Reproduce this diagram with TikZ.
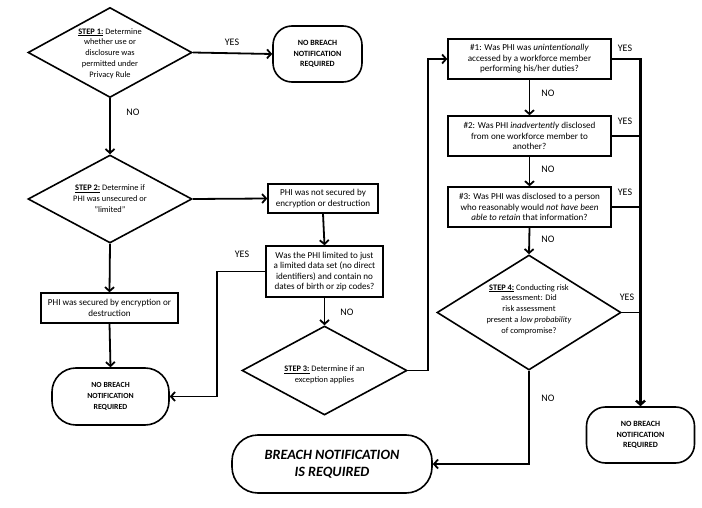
\documentclass[tikz,border=0pt]{standalone}
\usepackage{fontspec}
\setmainfont{Carlito}
\usetikzlibrary{shapes.geometric,arrows.meta}
\begin{document}
\begin{tikzpicture}[x=1pt,y=-1pt,
  dia/.style={draw, diamond, line width=1.6pt, inner sep=0pt},
  dtext/.style={align=center, inner sep=0pt, font=\fontsize{8.4}{10.8}\selectfont},
  box/.style={draw, rectangle, line width=1.4pt, align=center, inner sep=0pt, font=\fontsize{9.1}{10.6}\selectfont},
  term/.style={draw, rectangle, rounded corners=19pt, line width=1.6pt, align=center, inner sep=0pt, font=\bfseries\fontsize{8}{10.7}\selectfont},
  conn/.style={line width=1.8pt, -{Straight Barb[length=4pt,width=9pt]}},
  plain/.style={line width=1.8pt},
  lbl/.style={font=\fontsize{10}{11}\selectfont, inner sep=0pt}
]
\useasboundingbox (0,0) rectangle (702,508);
\fill[white] (0,0) rectangle (702,508);

% Step 1
\node[dia, minimum width=164pt, minimum height=90pt] (s1) at (110,52.5) {};
\node[dtext] (s1t) at (110,53.5) {\textbf{\underline{STEP 1:}} Determine\\whether use or\\disclosure was\\permitted under\\Privacy Rule};
\node[term, minimum width=89pt, minimum height=56pt] (nb1) at (317.5,54) {NO BREACH\\NOTIFICATION\\REQUIRED};

% Step 2
\node[dia, minimum width=164pt, minimum height=88pt] (s2) at (110,199) {};
\node[dtext] (s2t) at (110,198.5) {\textbf{\underline{STEP 2:}} Determine if\\PHI was unsecured or\\"limited"};

\node[box, minimum width=110pt, minimum height=29pt] (ns) at (323,198.5) {PHI was not secured by\\encryption or destruction};
\node[box, minimum width=117pt, minimum height=51pt] (lim) at (324.5,271.5) {Was the PHI limited to just\\a limited data set (no direct\\identifiers) and contain no\\dates of birth or zip codes?};
\node[box, minimum width=137pt, minimum height=30pt] (sec) at (109.5,308) {PHI was secured by encryption or\\destruction};
\node[term, rounded corners=24pt, minimum width=117pt, minimum height=57pt, font=\bfseries\fontsize{7.8}{10.7}\selectfont] (nb2) at (110.5,396.5) {NO BREACH\\NOTIFICATION\\REQUIRED};

% Step 3
\node[dia, minimum width=165pt, minimum height=89pt] (s3) at (324.5,370.5) {};
\node[dtext] (s3t) at (324.5,374.5) {\textbf{\underline{STEP 3:}} Determine if an\\exception applies};

% Questions
\node[box, minimum width=163pt, minimum height=40pt] (q1) at (529.5,59) {\#1: Was PHI was \textit{unintentionally}\\accessed by a workforce member\\performing his/her duties?};
\node[box, minimum width=163pt, minimum height=40pt] (q2) at (529.5,136) {\#2: Was PHI \textit{inadvertently} disclosed\\from one workforce member to\\another?};
\node[box, minimum width=163pt, minimum height=40pt] (q3) at (529.5,207) {\#3: Was PHI was disclosed to a person\\who reasonably would \textit{not have been}\\\textit{able to retain} that information?};

% Step 4
\node[dia, minimum width=184pt, minimum height=115pt] (s4) at (529,312.5) {};
\node[dtext] (s4t) at (529,309.5) {\textbf{\underline{STEP 4:}} Conducting risk\\assessment: Did\\risk assessment\\present a \textit{low probability}\\of compromise?};

\node[term, minimum width=108pt, minimum height=56pt] (nb3) at (640.5,435) {NO BREACH\\NOTIFICATION\\REQUIRED};
\node[term, rounded corners=26pt, minimum width=200pt, minimum height=58pt, font=\bfseries\itshape\fontsize{14.2}{16.7}\selectfont] (br) at (332,464) {BREACH NOTIFICATION\\IS REQUIRED};

% Connectors
\draw[conn] (s1.east) -- (nb1.west);
\node[lbl] (y1) at (232,42) {YES};
\draw[conn] (s1.south) -- (s2.north);
\node[lbl] (n1) at (133,112) {NO};
\draw[conn] (s2.east) -- (ns.west);
\draw[conn] (ns.south) -- (lim.north);
\draw[conn] (lim.west) -- ++(-48,0) |- (nb2.east);
\node[lbl] (y2) at (242,254) {YES};
\draw[conn] (lim.south) -- (s3.north);
\node[lbl] (n2) at (347,312) {NO};
\draw[conn] (s2.south) -- (sec.north);
\draw[conn] (sec.south) -- (nb2.north);
\draw[conn] (s3.east) -- ++(20,0) |- (q1.west);
\draw[conn] (q1.south) -- (q2.north);
\node[lbl] (n3) at (548,93) {NO};
\draw[conn] (q2.south) -- (q3.north);
\node[lbl] (n4) at (548,169) {NO};
\draw[conn] (q3.south) -- (s4.north);
\node[lbl] (n5) at (548,239) {NO};
\draw[conn, line width=2.4pt] (q1.east) -| (nb3.north);
\draw[plain] (q2.east) -- (q2.east -| nb3.north);
\draw[plain] (q3.east) -- (q3.east -| nb3.north);
\draw[plain] (s4.east) -- (s4.east -| nb3.north);
\node[lbl] (y3) at (625,48) {YES};
\node[lbl] (y4) at (625,121) {YES};
\node[lbl] (y5) at (625,192) {YES};
\node[lbl] (y6) at (627,297) {YES};
\draw[conn] (s4.south) |- (br.east);
\node[lbl] (n6) at (548,398) {NO};
\end{tikzpicture}
\end{document}
